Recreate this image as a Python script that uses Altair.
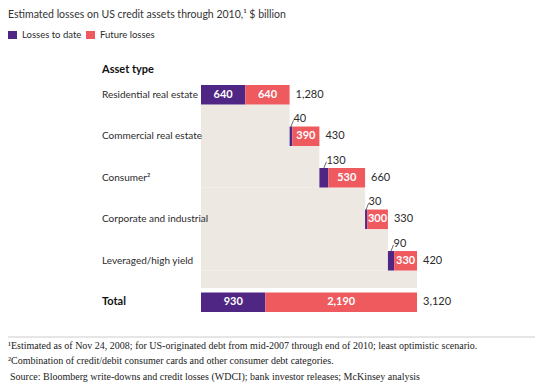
import altair as alt
import pandas as pd

# ---- data ----
categories = ["Residential real estate", "Commercial real estate", "Consumer²",
              "Corporate and industrial", "Leveraged/high yield", "Total"]
losses_to_date = [640, 40, 130, 30, 90, 930]
future_losses = [640, 390, 530, 300, 330, 2190]
totals = [1280, 430, 660, 330, 420, 3120]

title_text = "Estimated losses on US credit assets through 2010,¹ $ billion"
legend_labels = ["Losses to date", "Future losses"]
header_text = "Asset type"
footnotes = [
    "¹Estimated as of Nov 24, 2008; for US-originated debt from mid-2007 through end of 2010; least optimistic scenario.",
    "²Combination of credit/debit consumer cards and other consumer debt categories.",
]
source_text = "Source: Bloomberg write-downs and credit losses (WDCI); bank investor releases; McKinsey analysis"

PURPLE = "#4F2683"
RED = "#EF5A5F"
BEIGE = "#EEE8E3"
TXT = "#2b2b2b"
SANS = "Lato, Roboto, sans-serif"
SERIF = "Liberation Serif, DejaVu Serif, serif"

H = 0.235  # half bar height in row units

# ---- build tables ----
n = len(categories)
starts = []
acc = 0
for i in range(n):
    if i < n - 1:
        starts.append(acc)
        acc += totals[i]
    else:
        starts.append(0)

rows = []
for i in range(n):
    s = starts[i]
    rows.append(dict(
        cat=categories[i], row=i, todate=losses_to_date[i], future=future_losses[i],
        total=totals[i], start=s, mid=s + losses_to_date[i], end=s + totals[i],
        pmid=s + losses_to_date[i] / 2, rmid=s + losses_to_date[i] + future_losses[i] / 2,
        top=i - H, bot=i + H,
        inside=losses_to_date[i] >= 300, is_total=(i == n - 1),
    ))
df = pd.DataFrame(rows)

beige = []
for i in range(n - 1):
    ybot = (i + 1 + H) if i < n - 2 else (n - 1 - H - 0.11)
    beige.append(dict(x0=0, x1=df.loc[i, "end"], y0=i + H, y1=ybot))
dfb = pd.DataFrame(beige)

small = df[~df["inside"]].copy()
small["lx2"] = small["pmid"] + 36
small["ly2"] = small["top"] - 0.15

xs = alt.Scale(domain=[0, 3120], range=[193, 409], nice=False, zero=False)
ys = alt.Scale(domain=[0, 5], range=[86.75, 294.3], nice=False, zero=False)

X = lambda f: alt.X(f, type="quantitative", scale=xs, axis=None)
Y = lambda f: alt.Y(f, type="quantitative", scale=ys, axis=None)

base = alt.Chart(df)

bg = alt.Chart(dfb).mark_rect(color=BEIGE).encode(
    x=X("x0"), x2="x1", y=Y("y0"), y2="y1")

purple = base.mark_rect(color=PURPLE).encode(
    x=X("start"), x2="mid", y=Y("top"), y2="bot")
red = base.mark_rect(color=RED).encode(
    x=X("mid"), x2="end", y=Y("top"), y2="bot")

red_lbl = base.mark_text(color="white", font=SANS, fontSize=11, fontWeight="bold",
                         baseline="middle").encode(
    x=X("rmid"), y=Y("row"), text=alt.Text("future:Q", format=",d"))

pin_lbl = alt.Chart(df[df["inside"]]).mark_text(
    color="white", font=SANS, fontSize=11, fontWeight="bold", baseline="middle").encode(
    x=X("pmid"), y=Y("row"), text=alt.Text("todate:Q", format=",d"))

leader = alt.Chart(small).mark_rule(color=TXT, strokeWidth=0.7).encode(
    x=X("pmid"), x2="lx2", y=Y("top"), y2="ly2")
pout_lbl = alt.Chart(small).mark_text(
    color=TXT, font=SANS, fontSize=11, align="left", baseline="alphabetic", dx=0, dy=2).encode(
    x=X("lx2"), y=Y("ly2"), text=alt.Text("todate:Q", format=",d"))

tot_lbl = base.mark_text(color=TXT, font=SANS, fontSize=11, align="left",
                         baseline="middle", dx=6).encode(
    x=X("end"), y=Y("row"), text=alt.Text("total:Q", format=",d"))

cat_lbl = alt.Chart(df[~df["is_total"]]).mark_text(
    color=TXT, font=SANS, fontSize=10, align="left", baseline="middle").encode(
    x=alt.value(94), y=Y("row"), text="cat:N")
tot_cat = alt.Chart(df[df["is_total"]]).mark_text(
    color="#111111", font=SANS, fontSize=11, fontWeight="bold", align="left", baseline="middle").encode(
    x=alt.value(94), y=Y("row"), text="cat:N")

def txt(s, x, y, font=SANS, size=11, weight="normal", color=TXT):
    return alt.Chart(pd.DataFrame({"t": [s]})).mark_text(
        font=font, fontSize=size, fontWeight=weight, color=color,
        align="left", baseline="middle").encode(
        x=alt.value(x), y=alt.value(y), text="t:N")

title = txt(title_text, 0, 7, size=10.5, color="#333333")
header = txt(header_text, 94, 62, weight="bold", size=11, color="#111111")
leg1 = alt.Chart(pd.DataFrame({"a": [0]})).mark_rect(color=PURPLE).encode(
    x=alt.value(0), x2=alt.value(9), y=alt.value(23), y2=alt.value(31))
leg2 = alt.Chart(pd.DataFrame({"a": [0]})).mark_rect(color=RED).encode(
    x=alt.value(78), x2=alt.value(87), y=alt.value(23), y2=alt.value(31))
leg1t = txt(legend_labels[0], 14, 27, size=9.5)
leg2t = txt(legend_labels[1], 92, 27, size=9.5)

hr = alt.Chart(pd.DataFrame({"a": [0]})).mark_rule(color="#cccccc", strokeWidth=1).encode(
    x=alt.value(0), x2=alt.value(527), y=alt.value(329))
fn1 = txt(footnotes[0], 0, 338, font=SERIF, size=10, color="#222222")
fn2 = txt(footnotes[1], 0, 353, font=SERIF, size=10, color="#222222")
src = txt(source_text, 2, 369, font=SERIF, size=10, color="#222222")

chart = alt.layer(
    bg, purple, red, red_lbl, pin_lbl, leader, pout_lbl, tot_lbl, cat_lbl, tot_cat,
    title, header, leg1, leg2, leg1t, leg2t, hr, fn1, fn2, src,
).properties(
    width=529, height=376, autosize=alt.AutoSizeParams(type="none"), padding=0,
    background="white",
).configure_view(stroke=None)

chart.save("out.html", embed_options={"renderer": "svg", "actions": False})
